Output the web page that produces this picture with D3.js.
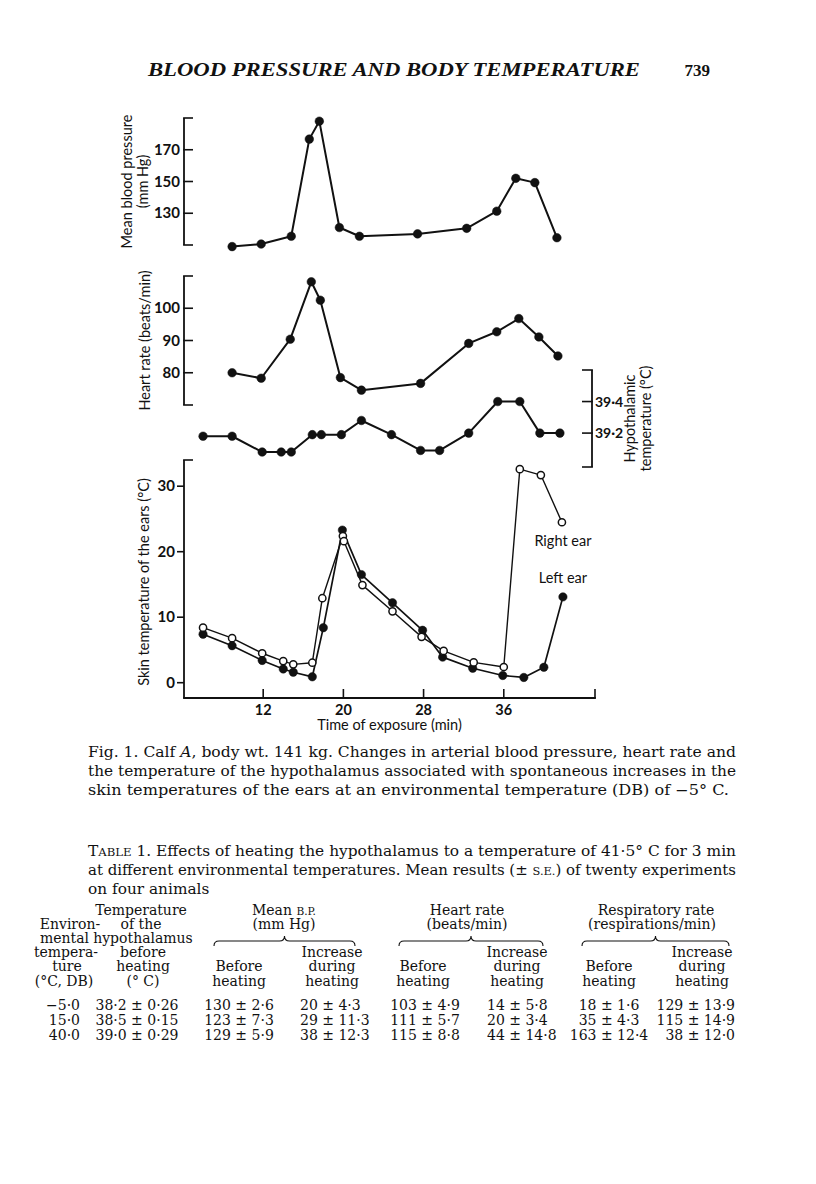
<!DOCTYPE html>
<html>
<head>
<meta charset="utf-8">
<script src="https://cdn.jsdelivr.net/npm/d3@7"></script>
<style>
  html, body { margin: 0; padding: 0; background: #fff; }
  svg { display: block; }
  .serif { font-family: "DejaVu Serif", "Liberation Serif", serif; fill: #111; }
  .hdr { font-family: "Liberation Serif", "DejaVu Serif", serif; fill: #111; }
  .sans { font-family: Lato, "Open Sans", sans-serif; fill: #111; }
</style>
</head>
<body>
<svg id="chart" width="816" height="1184"></svg>
<script>
// ---------------- DATA ----------------
// Mean blood pressure (mm Hg)
const bpTime  = [8.9, 11.8, 14.8, 16.6, 17.6, 19.6, 21.6, 27.4, 32.3, 35.3, 37.2, 39.1, 41.3];
const bpValue = [109, 110.6, 115.5, 176.7, 188, 121, 115.5, 117, 120.5, 131.3, 152, 149.3, 114.6];
// Heart rate (beats/min)
const hrTime  = [8.9, 11.8, 14.7, 16.8, 17.7, 19.7, 21.8, 27.7, 32.5, 35.3, 37.5, 39.5, 41.4];
const hrValue = [80, 78.3, 90.4, 108.2, 102.5, 78.5, 74.6, 76.7, 89.1, 92.7, 96.8, 91.1, 85.2];
// Hypothalamic temperature (°C)
const hypoTime  = [6, 8.9, 11.9, 13.8, 14.8, 16.9, 17.8, 19.8, 21.8, 24.8, 27.7, 29.6, 32.5, 35.4, 37.6, 39.6, 41.6];
const hypoValue = [39.18, 39.18, 39.08, 39.08, 39.08, 39.19, 39.19, 39.19, 39.28, 39.19, 39.09, 39.09, 39.2, 39.4, 39.4, 39.2, 39.2];
// Skin temperature of the ears (°C)
const leftTime  = [6, 8.9, 11.9, 14, 15, 16.9, 18, 19.9, 21.8, 24.9, 27.9, 29.9, 32.9, 35.9, 38, 40, 41.9];
const leftValue = [7.4, 5.65, 3.4, 2.1, 1.6, 0.9, 8.4, 23.3, 16.5, 12.2, 8.0, 3.9, 2.2, 1.1, 0.8, 2.35, 13.1];
const rightTime  = [6, 8.9, 11.9, 14, 15, 16.9, 17.9, 19.95, 20.05, 21.9, 24.9, 27.8, 30, 33, 36, 37.6, 39.7, 41.8];
const rightValue = [8.4, 6.8, 4.5, 3.3, 2.8, 3.05, 12.9, 22.4, 21.6, 14.9, 10.9, 7.0, 4.85, 3.1, 2.4, 32.6, 31.7, 24.5];

// Tick values
const timeTicks = [12, 20, 28, 36];
const bpTicks = [130, 150, 170];
const hrTicks = [80, 90, 100];
const hypoTicks = [39.2, 39.4];
const skinTicks = [0, 10, 20, 30];

// Table
const tableEnv      = ["\u22125\u00b70", "15\u00b70", "40\u00b70"];
const tableHypo     = ["38\u00b72 \u00b1 0\u00b726", "38\u00b75 \u00b1 0\u00b715", "39\u00b70 \u00b1 0\u00b729"];
const bpBefore      = ["130 \u00b1 2\u00b76", "123 \u00b1 7\u00b73", "129 \u00b1 5\u00b79"];
const bpIncrease    = ["20 \u00b1 4\u00b73", "29 \u00b1 11\u00b73", "38 \u00b1 12\u00b73"];
const hrBefore      = ["103 \u00b1 4\u00b79", "111 \u00b1 5\u00b77", "115 \u00b1 8\u00b78"];
const hrIncrease    = ["14 \u00b1 5\u00b78", "20 \u00b1 3\u00b74", "44 \u00b1 14\u00b78"];
const respBefore    = ["18 \u00b1 1\u00b76", "35 \u00b1 4\u00b73", "163 \u00b1 12\u00b74"];
const respIncrease  = ["129 \u00b1 13\u00b79", "115 \u00b1 14\u00b79", "38 \u00b1 12\u00b70"];

// ---------------- DRAW ----------------
const svg = d3.select("#chart");
const ink = "#111";

const x = d3.scaleLinear().domain([4.1, 45.1]).range([184, 595]);
const yBP = d3.scaleLinear().domain([110, 190]).range([245, 118]);
const yHR = d3.scaleLinear().domain([70, 110]).range([405, 276]);
const yHypo = d3.scaleLinear().domain([38.985, 39.6]).range([467, 370]);
const ySkin = d3.scaleLinear().domain([0, 34]).range([682.7, 460]);

const fmtComma = v => String(v).replace(".", "\u00b7");

// Header
svg.append("text").attr("class", "hdr")
  .attr("x", 148).attr("y", 76)
  .attr("font-size", 19).attr("font-style", "italic").attr("font-weight", "bold")
  .attr("textLength", 492).attr("lengthAdjust", "spacingAndGlyphs")
  .text("BLOOD PRESSURE AND BODY TEMPERATURE");
svg.append("text").attr("class", "hdr")
  .attr("x", 710).attr("y", 76).attr("text-anchor", "end")
  .attr("font-size", 17).attr("font-weight", "bold")
  .text("739");

// Left bracket-style axis with inward ticks ("[" shape)
function bracketAxis(scale, ticks, axisX) {
  const g = svg.append("g");
  const [d0, d1] = scale.domain();
  g.append("line").attr("x1", axisX).attr("x2", axisX)
    .attr("y1", scale(d0)).attr("y2", scale(d1))
    .attr("stroke", ink).attr("stroke-width", 1.8);
  [d0, ...ticks, d1].forEach(v => {
    g.append("line").attr("x1", axisX - 0.9).attr("x2", axisX + 9)
      .attr("y1", scale(v)).attr("y2", scale(v))
      .attr("stroke", ink).attr("stroke-width", 1.6);
  });
  ticks.forEach(v => {
    g.append("text").attr("class", "sans")
      .attr("x", axisX - 4).attr("y", scale(v) + 5)
      .attr("text-anchor", "end").attr("font-size", 15).attr("font-weight", 700)
      .text(v);
  });
}

function drawSeries(times, values, yScale, opts) {
  const pts = times.map((t, i) => [t, values[i]]);
  const line = d3.line().x(d => x(d[0])).y(d => yScale(d[1]));
  svg.append("path").datum(pts)
    .attr("d", line).attr("fill", "none")
    .attr("stroke", ink).attr("stroke-width", opts.lw).attr("stroke-linejoin", "round");
  svg.append("g").selectAll("circle").data(pts).join("circle")
    .attr("cx", d => x(d[0])).attr("cy", d => yScale(d[1]))
    .attr("r", opts.r)
    .attr("fill", opts.open ? "#fff" : ink)
    .attr("stroke", ink).attr("stroke-width", opts.open ? 1.5 : 0.5);
}

// ----- Blood pressure panel -----
bracketAxis(yBP, bpTicks, 184);
drawSeries(bpTime, bpValue, yBP, { lw: 2, r: 4.3 });
svg.append("text").attr("class", "sans")
  .attr("transform", `translate(132,${(yBP(110) + yBP(190)) / 2}) rotate(-90)`)
  .attr("text-anchor", "middle").attr("font-size", 14.5).text("Mean blood pressure");
svg.append("text").attr("class", "sans")
  .attr("transform", `translate(148,${(yBP(110) + yBP(190)) / 2}) rotate(-90)`)
  .attr("text-anchor", "middle").attr("font-size", 14.5).text("(mm Hg)");

// ----- Heart rate panel -----
bracketAxis(yHR, hrTicks, 184);
drawSeries(hrTime, hrValue, yHR, { lw: 2, r: 4.3 });
svg.append("text").attr("class", "sans")
  .attr("transform", `translate(150,${(yHR(70) + yHR(110)) / 2}) rotate(-90)`)
  .attr("text-anchor", "middle").attr("font-size", 14.5).text("Heart rate (beats/min)");

// ----- Hypothalamic temperature panel (right axis, "]" shape) -----
(function () {
  const ax = 592;
  const [d0, d1] = yHypo.domain();
  svg.append("line").attr("x1", ax).attr("x2", ax)
    .attr("y1", yHypo(d0)).attr("y2", yHypo(d1))
    .attr("stroke", ink).attr("stroke-width", 1.8);
  [d0, ...hypoTicks, d1].forEach(v => {
    svg.append("line").attr("x1", ax - 10).attr("x2", ax + 0.9)
      .attr("y1", yHypo(v)).attr("y2", yHypo(v))
      .attr("stroke", ink).attr("stroke-width", 1.6);
  });
  hypoTicks.forEach(v => {
    svg.append("text").attr("class", "sans")
      .attr("x", ax + 3).attr("y", yHypo(v) + 5)
      .attr("font-size", 14).attr("font-weight", 700)
      .text(fmtComma(v.toFixed(1)));
  });
  const cy = (yHypo(d0) + yHypo(d1)) / 2;
  svg.append("text").attr("class", "sans")
    .attr("transform", `translate(635,${cy}) rotate(-90)`)
    .attr("text-anchor", "middle").attr("font-size", 14.5).text("Hypothalamic");
  svg.append("text").attr("class", "sans")
    .attr("transform", `translate(651,${cy}) rotate(-90)`)
    .attr("text-anchor", "middle").attr("font-size", 14.5).text("temperature (\u00b0C)");
})();
drawSeries(hypoTime, hypoValue, yHypo, { lw: 2, r: 4.3 });

// ----- Skin temperature panel -----
(function () {
  const ax = 184, baseY = 698;
  svg.append("line").attr("x1", ax).attr("x2", ax)
    .attr("y1", ySkin(34)).attr("y2", baseY)
    .attr("stroke", ink).attr("stroke-width", 1.8);
  svg.append("line").attr("x1", ax - 0.9).attr("x2", ax + 9)
    .attr("y1", ySkin(34)).attr("y2", ySkin(34))
    .attr("stroke", ink).attr("stroke-width", 1.6);
  skinTicks.forEach(v => {
    svg.append("line").attr("x1", ax - 7).attr("x2", ax)
      .attr("y1", ySkin(v)).attr("y2", ySkin(v))
      .attr("stroke", ink).attr("stroke-width", 1.6);
    svg.append("text").attr("class", "sans")
      .attr("x", ax - 9).attr("y", ySkin(v) + 5)
      .attr("text-anchor", "end").attr("font-size", 15).attr("font-weight", 700)
      .text(v);
  });
  // x axis
  const [t0, t1] = x.domain();
  svg.append("line").attr("x1", x(t0) - 0.9).attr("x2", x(t1) + 0.9)
    .attr("y1", baseY).attr("y2", baseY)
    .attr("stroke", ink).attr("stroke-width", 1.8);
  [...timeTicks, t1].forEach(t => {
    svg.append("line").attr("x1", x(t)).attr("x2", x(t))
      .attr("y1", baseY).attr("y2", baseY - 9)
      .attr("stroke", ink).attr("stroke-width", 1.6);
  });
  timeTicks.forEach(t => {
    svg.append("text").attr("class", "sans")
      .attr("x", x(t)).attr("y", 715)
      .attr("text-anchor", "middle").attr("font-size", 14.5).attr("font-weight", 700)
      .text(t);
  });
  svg.append("text").attr("class", "sans")
    .attr("x", x(24.6)).attr("y", 730)
    .attr("text-anchor", "middle").attr("font-size", 14.5)
    .text("Time of exposure (min)");
  svg.append("text").attr("class", "sans")
    .attr("transform", `translate(149,${(ySkin(34) + baseY) / 2 + 3}) rotate(-90)`)
    .attr("text-anchor", "middle").attr("font-size", 14.5)
    .text("Skin temperature of the ears (\u00b0C)");
})();
drawSeries(leftTime, leftValue, ySkin, { lw: 1.7, r: 4.2 });
drawSeries(rightTime, rightValue, ySkin, { lw: 1.4, r: 3.6, open: true });
svg.append("text").attr("class", "sans")
  .attr("x", x(41.9)).attr("y", ySkin(20.8))
  .attr("text-anchor", "middle").attr("font-size", 14.5).text("Right ear");
svg.append("text").attr("class", "sans")
  .attr("x", x(41.9)).attr("y", ySkin(15.2))
  .attr("text-anchor", "middle").attr("font-size", 14.5).text("Left ear");

// ----- Figure caption -----
const cs = 14;
function serifLine(xp, yp, parts, len) {
  const t = svg.append("text").attr("class", "serif")
    .attr("x", xp).attr("y", yp).attr("font-size", cs);
  parts.forEach(p => {
    const s = t.append("tspan").text(p.t);
    if (p.i) s.attr("font-style", "italic");
    if (p.sc) s.attr("font-size", cs * 0.76);
  });
  if (len) t.attr("textLength", len).attr("lengthAdjust", "spacingAndGlyphs");
  return t;
}
serifLine(88, 757, [{ t: "Fig. 1.  Calf " }, { t: "A", i: 1 }, { t: ", body wt. 141 kg.  Changes in arterial blood pressure, heart rate and" }], 648);
const refLine = serifLine(88, 776, [{ t: "the temperature of the hypothalamus associated with spontaneous increases in the" }]);
const natural = refLine.node().getComputedTextLength();
const squeeze = 648 / natural;
refLine.attr("textLength", 648).attr("lengthAdjust", "spacingAndGlyphs");
serifLine(88, 795, [{ t: "skin temperatures of the ears at an environmental temperature (DB) of \u22125\u00b0 C." }], 641);

// ----- Table caption -----
serifLine(88, 856, [{ t: "T" }, { t: "ABLE", sc: 1 }, { t: " 1.  Effects of heating the hypothalamus to a temperature of 41\u00b75\u00b0 C for 3 min" }], 648);
serifLine(88, 875, [{ t: "at different environmental temperatures. Mean results (\u00b1 " }, { t: "S.E.", sc: 1 }, { t: ") of twenty experiments" }], 648);
const lastLine = serifLine(88, 894, [{ t: "on four animals" }]);
lastLine.attr("textLength", lastLine.node().getComputedTextLength() * squeeze).attr("lengthAdjust", "spacingAndGlyphs");

// ----- Table header -----
const ts = 14;
function tcell(xp, yp, str, anchor) {
  return svg.append("text").attr("class", "serif")
    .attr("x", xp).attr("y", yp).attr("font-size", ts)
    .attr("text-anchor", anchor || "middle").text(str);
}
const hy = [915, 929, 943, 957, 971, 986];
// column 1
tcell(70, hy[1], "Environ-");
tcell(89, hy[2], "mental", "end");
tcell(66, hy[3], "tempera-");
tcell(67, hy[4], "ture");
tcell(64, hy[5], "(\u00b0C, DB)");
// column 2
tcell(141, hy[0], "Temperature");
tcell(141, hy[1], "of the");
tcell(143, hy[2], "hypothalamus");
tcell(143, hy[3], "before");
tcell(143, hy[4], "heating");
tcell(143, hy[5], "(\u00b0 C)");
// Mean B.P.
const bpT = svg.append("text").attr("class", "serif").attr("x", 284).attr("y", hy[0])
  .attr("font-size", ts).attr("text-anchor", "middle");
bpT.append("tspan").text("Mean ");
bpT.append("tspan").attr("font-size", ts * 0.76).text("B.P.");
tcell(284, hy[1], "(mm Hg)");
tcell(467, hy[0], "Heart rate");
tcell(467, hy[1], "(beats/min)");
tcell(656, hy[0], "Respiratory rate");
tcell(652, hy[1], "(respirations/min)");
// braces
function brace(x0, x1, yTop) {
  const xm = (x0 + x1) / 2;
  const p = `M${x0},${yTop + 6} Q${x0},${yTop + 1} ${x0 + 5},${yTop + 1} L${xm - 5},${yTop + 1} Q${xm},${yTop + 1} ${xm},${yTop - 4} Q${xm},${yTop + 1} ${xm + 5},${yTop + 1} L${x1 - 5},${yTop + 1} Q${x1},${yTop + 1} ${x1},${yTop + 6}`;
  svg.append("path").attr("d", p).attr("fill", "none").attr("stroke", ink).attr("stroke-width", 1.1);
}
brace(214, 355, 940);
brace(399, 543, 940);
brace(582, 729, 940);
// sub-headers
[[239, 332], [423, 517], [609, 702]].forEach(([b, inc]) => {
  tcell(inc, hy[3], "Increase");
  tcell(b, hy[4], "Before");
  tcell(inc, hy[4], "during");
  tcell(b, hy[5], "heating");
  tcell(inc, hy[5], "heating");
});

// ----- Table body -----
const rowY = [1010, 1025, 1040];
rowY.forEach((yy, i) => {
  tcell(80, yy, tableEnv[i], "end");
  tcell(137, yy, tableHypo[i]);
  tcell(239, yy, bpBefore[i]);
  tcell(300, yy, bpIncrease[i], "start");
  tcell(425, yy, hrBefore[i]);
  tcell(487, yy, hrIncrease[i], "start");
  tcell(609, yy, respBefore[i]);
  tcell(735, yy, respIncrease[i], "end");
});
</script>
</body>
</html>
